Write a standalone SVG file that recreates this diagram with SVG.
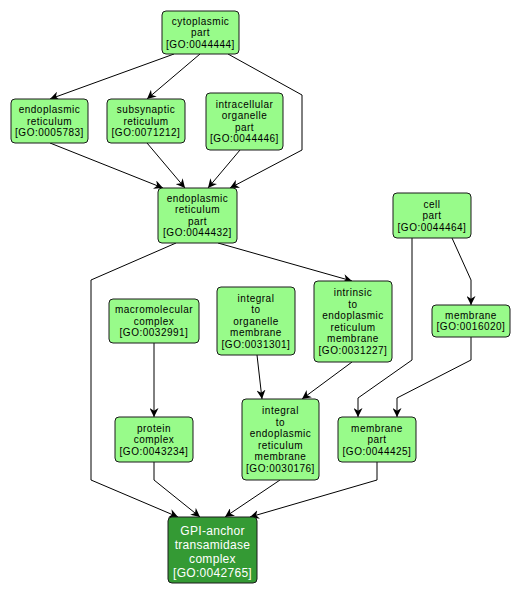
<svg xmlns="http://www.w3.org/2000/svg" width="520" height="595" viewBox="0 0 520 595">
<defs>
<marker id="ah" viewBox="0 0 10 10" refX="10" refY="5" markerWidth="9" markerHeight="9" markerUnits="userSpaceOnUse" orient="auto">
<path d="M0,0 L10,5 L0,10 L3,5 Z" fill="#000"/>
</marker>
<style>
.n rect{fill:#98fb8a;stroke:#1a1a1a;stroke-width:1}
.n text{font-family:"Liberation Sans",Arial,sans-serif;font-size:10px;letter-spacing:0.5px;text-anchor:middle;fill:#000}
.g rect{fill:#349a34;stroke:#1a1a1a;stroke-width:1}
.g text{font-family:"Liberation Sans",Arial,sans-serif;font-size:12px;letter-spacing:0.3px;text-anchor:middle;fill:#fff}
.e polyline{fill:none;stroke:#000;stroke-width:1;marker-end:url(#ah)}
</style>
</defs>
<rect width="520" height="595" fill="#fff"/>
<g class="e" id="edges">
<polyline points="174,54 50,99"/>
<polyline points="200,54 147,99"/>
<polyline points="228,54 302,95 302,150 230,188"/>
<polyline points="50,143 163,188"/>
<polyline points="147,143 185,188"/>
<polyline points="240,150 208,188"/>
<polyline points="176,243 91,280 91,480 178,517"/>
<polyline points="218,243 352,281"/>
<polyline points="412,238 412,360 358,398 358,417"/>
<polyline points="452,238 471,280 471,305"/>
<polyline points="471,337 471,360 397,398 397,417"/>
<polyline points="154,343 154,417"/>
<polyline points="257,355 262,399"/>
<polyline points="352,362 302,399"/>
<polyline points="154,462 154,480 200,517"/>
<polyline points="280,480 225,517"/>
<polyline points="377,462 377,480 250,517"/>
</g>
<g class="n" id="GO0044444"><rect x="162" y="11" width="77" height="43" rx="4"/>
<text x="200.5" y="24.5">cytoplasmic</text><text x="200.5" y="36">part</text><text x="200.5" y="47.5">[GO:0044444]</text></g>
<g class="n" id="GO0005783"><rect x="11" y="99" width="77" height="44" rx="4"/>
<text x="49.5" y="113">endoplasmic</text><text x="49.5" y="124.5">reticulum</text><text x="49.5" y="136">[GO:0005783]</text></g>
<g class="n" id="GO0071212"><rect x="107" y="99" width="78" height="44" rx="4"/>
<text x="146" y="113">subsynaptic</text><text x="146" y="124.5">reticulum</text><text x="146" y="136">[GO:0071212]</text></g>
<g class="n" id="GO0044446"><rect x="206" y="93" width="77" height="57" rx="4"/>
<text x="244.5" y="107.75">intracellular</text><text x="244.5" y="119.25">organelle</text><text x="244.5" y="130.75">part</text><text x="244.5" y="142.25">[GO:0044446]</text></g>
<g class="n" id="GO0044432"><rect x="158" y="188" width="79" height="55" rx="4"/>
<text x="197.5" y="201.75">endoplasmic</text><text x="197.5" y="213.25">reticulum</text><text x="197.5" y="224.75">part</text><text x="197.5" y="236.25">[GO:0044432]</text></g>
<g class="n" id="GO0044464"><rect x="393" y="193" width="78" height="45" rx="4"/>
<text x="432" y="207.5">cell</text><text x="432" y="219">part</text><text x="432" y="230.5">[GO:0044464]</text></g>
<g class="n" id="GO0016020"><rect x="432" y="305" width="78" height="32" rx="4"/>
<text x="471" y="318.75">membrane</text><text x="471" y="330.25">[GO:0016020]</text></g>
<g class="n" id="GO0032991"><rect x="109" y="299" width="90" height="44" rx="4"/>
<text x="154" y="313">macromolecular</text><text x="154" y="324.5">complex</text><text x="154" y="336">[GO:0032991]</text></g>
<g class="n" id="GO0031301"><rect x="217" y="287" width="78" height="68" rx="4"/>
<text x="256" y="301.5">integral</text><text x="256" y="313">to</text><text x="256" y="324.5">organelle</text><text x="256" y="336">membrane</text><text x="256" y="347.5">[GO:0031301]</text></g>
<g class="n" id="GO0031227"><rect x="314" y="281" width="78" height="81" rx="4"/>
<text x="353" y="296.25">intrinsic</text><text x="353" y="307.75">to</text><text x="353" y="319.25">endoplasmic</text><text x="353" y="330.75">reticulum</text><text x="353" y="342.25">membrane</text><text x="353" y="353.75">[GO:0031227]</text></g>
<g class="n" id="GO0043234"><rect x="115" y="417" width="78" height="45" rx="4"/>
<text x="154" y="431.5">protein</text><text x="154" y="443">complex</text><text x="154" y="454.5">[GO:0043234]</text></g>
<g class="n" id="GO0030176"><rect x="242" y="399" width="77" height="81" rx="4"/>
<text x="280.5" y="414.25">integral</text><text x="280.5" y="425.75">to</text><text x="280.5" y="437.25">endoplasmic</text><text x="280.5" y="448.75">reticulum</text><text x="280.5" y="460.25">membrane</text><text x="280.5" y="471.75">[GO:0030176]</text></g>
<g class="n" id="GO0044425"><rect x="338" y="417" width="78" height="45" rx="4"/>
<text x="377" y="431.5">membrane</text><text x="377" y="443">part</text><text x="377" y="454.5">[GO:0044425]</text></g>
<g class="g" id="GO0042765"><rect x="168" y="517" width="89" height="66" rx="4"/>
<text x="212.5" y="534.5">GPI-anchor</text><text x="212.5" y="548.5">transamidase</text><text x="212.5" y="562.5">complex</text><text x="212.5" y="576.5">[GO:0042765]</text></g>
</svg>
